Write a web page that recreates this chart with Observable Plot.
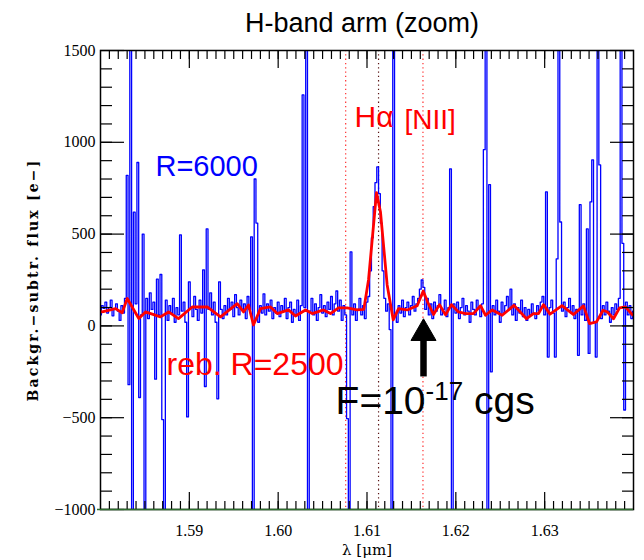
<!DOCTYPE html>
<html>
<head>
<meta charset="utf-8">
<script src="https://cdn.jsdelivr.net/npm/d3@7"></script>
<script src="https://cdn.jsdelivr.net/npm/@observablehq/plot@0.6"></script>
<style>
  body { margin: 0; background: #ffffff; color: #000000; }
  #wrap { position: relative; width: 644px; height: 560px; }
  #title { position: absolute; left: 40px; top: 10px; width: 644px; text-align: center;
           font-family: "Liberation Sans", Arial, Helvetica, sans-serif; font-size: 27px; line-height: 27px; color: #000000; }
</style>
</head>
<body>
<div id="wrap">
  <div id="chart"></div>
  <div id="title">H-band arm (zoom)</div>
</div>
<script>
// ---- data ----
const lambda0 = 1.58;      // first pixel wavelength [µm]
const dLambda = 0.0002;    // pixel width [µm]
const blueFlux = [
  60, 110, 95, 130, 70, 100, 140, 55, 90, 120,
  80, 30, 110, 70, 150, 820, -320, 1600, -1100, 620,
  120, 890, -390, 60, 500, -1100, 150, 40, 180, 90,
  130, -290, 255, 60, 280, -510, -1100, 140, 30, 110,
  70, 150, 20, 100, 60, 496, 80, 130, 20, -496,
  240, 100, 50, 160, 90, 30, 140, 70, 305, -330,
  528, 90, 180, 60, 130, 20, -397, 240, 90, 40,
  110, 60, 150, 90, 130, 50, 170, 100, 60, 140,
  90, 120, 40, 160, 90, 485, -1100, 800, 560, 20,
  110, 70, 174, 60, 120, 80, 140, 40, 100, 70,
  130, 50, 110, 80, 150, 40, 100, 130, 20, 90,
  60, 140, 30, 110, 1258, 100, 1600, -1100, 80, 150,
  60, 120, 30, 100, 170, 70, 110, 50, 130, 90,
  160, 60, 120, 190, 80, 140, 30, 110, 60, -505,
  -1100, 403, 60, 120, 30, 90, 150, 60, 110, 40,
  130, 160, 300, 480, 650, 780, 866, 720, 560, 300,
  150, 80, 120, -20, -1100, 1600, 60, 20, 110, 70,
  140, 50, 100, 130, 60, 110, 160, 80, 120, 150,
  200, 250, 210, 90, 150, 60, 120, 40, 130, 80,
  110, 170, 60, 90, 140, 50, 100, 855, -1100, 120,
  70, 130, 40, 100, 150, 60, 110, 80, 20, 130,
  90, 60, 140, 100, 50, 120, 960, 1600, -1100, 770,
  -250, 110, 60, 140, 80, 20, 130, 70, 110, 160,
  90, 200, 60, 120, 30, 100, 70, 140, 50, 100,
  30, 90, 60, 120, 70, 40, 110, 80, 130, 160,
  60, 730, -170, 100, 140, 70, -170, 365, 1600, 566,
  80, 130, 50, 100, 150, 70, 110, 40, 90, -160,
  660, 60, 120, 30, 528, -150, 675, 904, 20, -170,
  1600, 877, 40, 110, 60, 130, 80, 20, 100, 60,
  120, 90, 150, 1600, 450, -458, 130, 60, 110, 40, 80
];
const redLambda = [
  1.5800, 1.58019, 1.58169, 1.58244, 1.58301, 1.58431, 1.58507, 1.58675, 1.58766, 1.58878,
  1.59032, 1.59201, 1.59351, 1.59539, 1.59610, 1.59666, 1.59722, 1.59801, 1.59914, 1.59989,
  1.60116, 1.60195, 1.60308, 1.60383, 1.60510, 1.60589, 1.60679, 1.60777, 1.60890, 1.60964,
  1.61017, 1.61107, 1.61152, 1.61227, 1.61295, 1.61355, 1.61453, 1.61565, 1.61633, 1.61681,
  1.61749, 1.61816, 1.61884, 1.61951, 1.62030, 1.62109, 1.62199, 1.62278, 1.62334, 1.62410,
  1.62522, 1.62655, 1.62796, 1.62874, 1.62931, 1.62987, 1.63060, 1.63195, 1.63325, 1.63437,
  1.63505, 1.63584, 1.63657, 1.63707, 1.63775, 1.63843, 1.63910, 1.63989
];
const redFlux = [
  80, 76, 94, 72, 149, 40, 76, 49, 76, 40,
  103, 103, 49, 121, 76, 114, 5, 94, 103, 67,
  87, 54, 87, 67, 87, 67, 98, 98, 87, 90,
  250, 726, 620, 223, 33, 94, 87, 110, 190, 131,
  62, 116, 60, 116, 76, 67, 67, 110, 58, 87,
  58, 112, 39, 67, 67, 116, 64, 110, 62, 109,
  13, 22, 85, 76, 39, 98, 103, 60
];
const niiLambda = [1.6076, 1.6163];   // [NII] 6548, 6583
const haLambda = [1.6113];            // H-alpha
const xTicks = [1.59, 1.60, 1.61, 1.62, 1.63];
const yTicks = [-1000, -500, 0, 500, 1000, 1500];
const xMinor = d3.range(1581, 1640, 1).map(v => v / 1000);
const yMinor = d3.range(-900, 1500, 100);
const arrowLambda = 1.61636, arrowFrom = -278, arrowHead = -40;

const blue = blueFlux.map((f, i) => ({lambda: lambda0 + i * dLambda, flux: f}));
const red = redLambda.map((l, i) => ({lambda: l, flux: redFlux[i]}));

const notes = [
  {text: "R=6000", lambda: 1.58619, flux: 866, color: "#0000ff", size: 29},
  {text: "reb. R=2500", lambda: 1.58743, flux: -210, color: "#ff0000", size: 32},
  {text: "Hα", lambda: 1.60859, flux: 1133, color: "#ff0000", size: 30},
  {text: "[NII]", lambda: 1.61422, flux: 1122, color: "#ff0000", size: 28}
];

const xDom = [1.58, 1.64], yDom = [-1000, 1500];
const serif = "Liberation Serif, Times New Roman, serif";
const dserif = "DejaVu Serif, serif";
const sans = "Liberation Sans, Arial, Helvetica, sans-serif";
const fmtY = d => (d < 0 ? "\u2212" : "") + Math.abs(d);
const blank = () => "";

// inward ticks: library axis ticks shifted inside the frame by their own length
const inTicks = [
  Plot.axisX(xTicks, {anchor: "bottom", tickSize: 17, dy: -17, tickFormat: blank, label: null, strokeWidth: 1.2}),
  Plot.axisX(xMinor, {anchor: "bottom", tickSize: 8, dy: -8, tickFormat: blank, label: null, strokeWidth: 1.2}),
  Plot.axisX(xTicks, {anchor: "top", tickSize: 17, dy: 17, tickFormat: blank, label: null, strokeWidth: 1.2}),
  Plot.axisX(xMinor, {anchor: "top", tickSize: 8, dy: 8, tickFormat: blank, label: null, strokeWidth: 1.2}),
  Plot.axisY(yTicks, {anchor: "left", tickSize: 24, dx: 24, tickFormat: blank, label: null, strokeWidth: 1.2}),
  Plot.axisY(yMinor, {anchor: "left", tickSize: 12, dx: 12, tickFormat: blank, label: null, strokeWidth: 1.2}),
  Plot.axisY(yTicks, {anchor: "right", tickSize: 24, dx: -24, tickFormat: blank, label: null, strokeWidth: 1.2}),
  Plot.axisY(yMinor, {anchor: "right", tickSize: 12, dx: -12, tickFormat: blank, label: null, strokeWidth: 1.2})
];

const plot = Plot.plot({
  width: 644, height: 560,
  marginLeft: 100, marginRight: 11, marginTop: 50, marginBottom: 51,
  x: {domain: xDom},
  y: {domain: yDom},
  style: {background: "#ffffff", color: "#000000", overflow: "visible"},
  marks: [
    Plot.ruleX(niiLambda, {stroke: "#ff3030", strokeWidth: 1.2, strokeDasharray: "1.3,3"}),
    Plot.ruleX(haLambda, {stroke: "#5a1414", strokeWidth: 1.2, strokeDasharray: "1.3,3"}),
    Plot.line(blue, {x: "lambda", y: "flux", curve: "step", stroke: "#0000ff", strokeWidth: 1.3, clip: true}),
    Plot.line(red, {x: "lambda", y: "flux", stroke: "#ff0000", strokeWidth: 2.8, strokeLinejoin: "round", clip: true}),
    ...inTicks,
    Plot.frame({stroke: "currentColor", strokeWidth: 1.5}),
    Plot.ruleY([yDom[0]], {stroke: "#2e6e2e", strokeWidth: 1.5, insetLeft: -3}),
    Plot.axisX(xTicks, {tickSize: 0, tickPadding: 15, tickFormat: d => d.toFixed(2), fontSize: 16, fontFamily: serif, label: null}),
    Plot.axisY(yTicks, {tickSize: 0, tickPadding: 5, tickFormat: fmtY, fontSize: 16, fontFamily: serif, label: null}),
    Plot.text(["Backgr.\u2212subtr. flux [e\u2212]"], {frameAnchor: "left", dx: -67, rotate: -90, textAnchor: "middle", fontSize: 14, fontWeight: "bold", fontFamily: dserif, className: "ylab"}),
    Plot.text(["λ [μm]"], {frameAnchor: "bottom", dy: 45, fontSize: 15, fontFamily: dserif}),
    Plot.text(notes, {x: "lambda", y: "flux", text: "text", fill: d => d.color, fontSize: d => d.size, textAnchor: "start", fontFamily: sans}),
    Plot.text(["F=10-17 cgs"], {x: 1.60646, y: -411, textAnchor: "start", fontSize: 39, fontFamily: sans, className: "fnote"}),
    Plot.ruleX([arrowLambda], {y1: arrowFrom, y2: arrowHead, stroke: "#000000", strokeWidth: 6.5}),
    Plot.dot([arrowLambda], {x: d => d, y: arrowHead, symbol: "triangle", r: 9.3, fill: "#000000", stroke: "#000000", strokeWidth: 1})
  ]
});
document.getElementById("chart").appendChild(plot);

plot.querySelectorAll(".ylab text").forEach(t => t.setAttribute("letter-spacing", "2.2"));
const ft = plot.querySelector(".fnote text");
if (ft) {
  ft.textContent = "";
  const ns = "http://www.w3.org/2000/svg";
  const a = document.createElementNS(ns, "tspan"); a.textContent = "F=10";
  const b = document.createElementNS(ns, "tspan"); b.textContent = "-17"; b.setAttribute("dy", "-14"); b.setAttribute("font-size", "26");
  const c = document.createElementNS(ns, "tspan"); c.textContent = " cgs"; c.setAttribute("dy", "14");
  ft.append(a, b, c);
}
</script>
</body>
</html>
